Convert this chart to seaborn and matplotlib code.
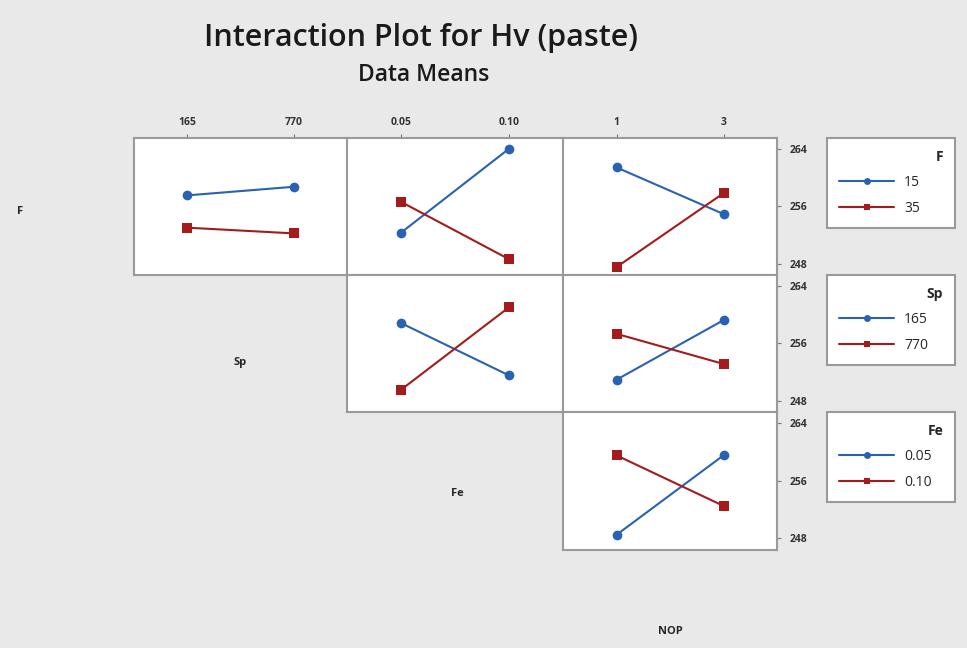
import numpy as np
import pandas as pd
import matplotlib
matplotlib.use('Agg')
import matplotlib.pyplot as plt
from matplotlib.lines import Line2D
import seaborn as sns

# 因子水平
F_levels = ['15', '35']
Sp_levels = ['165', '770']
Fe_levels = ['0.05', '0.10']
NOP_levels = ['1', '3']

# 各面板均值: 每行 = 图例因子的一个水平, 每列 = x轴因子的水平
F_by_Sp = [[257.5, 258.7], [253.0, 252.2]]
F_by_Fe = [[252.3, 264.0], [256.6, 248.6]]
F_by_NOP = [[261.4, 254.9], [247.5, 257.8]]
Sp_by_Fe = [[258.8, 251.5], [249.5, 261.0]]
Sp_by_NOP = [[250.9, 259.2], [257.3, 253.1]]
Fe_by_NOP = [[248.5, 259.5], [259.5, 252.5]]

y_ticks = [248, 256, 264]

blue = '#2a62b2'
red = '#a51b1b'
bg = '#e9e9e9'

sns.set_style('white')
plt.rcParams['font.family'] = ['Open Sans', 'DejaVu Sans']

W, H = 967, 648
fig = plt.figure(figsize=(W / 100, H / 100), dpi=100, facecolor=bg)

col_x = [(134, 347), (347, 563), (563, 777)]
row_y = [(138, 275), (275, 412), (412, 550)]

panels = [
    (0, 0, 'F', F_levels, Sp_levels, F_by_Sp),
    (0, 1, 'F', F_levels, Fe_levels, F_by_Fe),
    (0, 2, 'F', F_levels, NOP_levels, F_by_NOP),
    (1, 1, 'Sp', Sp_levels, Fe_levels, Sp_by_Fe),
    (1, 2, 'Sp', Sp_levels, NOP_levels, Sp_by_NOP),
    (2, 2, 'Fe', Fe_levels, NOP_levels, Fe_by_NOP),
]


def px_axes(x0, x1, y0, y1):
    return fig.add_axes([x0 / W, 1 - y1 / H, (x1 - x0) / W, (y1 - y0) / H])


for r, c, trace, trace_lv, x_lv, means in panels:
    ax = px_axes(col_x[c][0], col_x[c][1], row_y[r][0], row_y[r][1])
    rows = []
    for i, lv in enumerate(trace_lv):
        for j, xv in enumerate(x_lv):
            rows.append({'x': xv, 'level': lv, 'Hv': means[i][j]})
    df = pd.DataFrame(rows)
    sns.lineplot(data=df, x='x', y='Hv', hue='level', style='level',
                 markers=['o', 's'], dashes=False, palette=[blue, red],
                 markersize=7, linewidth=1.5, markeredgewidth=0,
                 sort=False, legend=False, ax=ax)
    ax.set_facecolor('white')
    ax.set_xlim(-0.5, 1.5)
    ax.set_ylim(246.4, 265.5)
    ax.set_xlabel('')
    ax.set_ylabel('')
    for s in ax.spines.values():
        s.set_color('#9a9a9a')
        s.set_linewidth(1.5)
    if r == 0:
        ax.xaxis.tick_top()
        ax.set_xticks([0, 1])
        ax.set_xticklabels(x_lv, fontsize=7.5, fontweight='bold', color='#333333')
        ax.tick_params(axis='x', length=3, color='#777777', pad=4)
    else:
        ax.set_xticks([])
    if c == 2:
        ax.yaxis.tick_right()
        ax.set_yticks(y_ticks)
        ax.set_yticklabels([str(t) for t in y_ticks], fontsize=7.5,
                           fontweight='bold', color='#333333')
        ax.tick_params(axis='y', length=3, color='#777777', pad=6)
    else:
        ax.set_yticks([])

    if c == 2:
        handles = [Line2D([], [], color=blue, marker='o', ms=5, lw=1.5, mew=0),
                   Line2D([], [], color=red, marker='s', ms=5, lw=1.5, mew=0)]
        y_top = row_y[r][0]
        leg = fig.legend(handles, trace_lv, title=trace, loc='upper left',
                         bbox_to_anchor=(827 / W, 1 - y_top / H, 128 / W, 0),
                         mode='expand', borderaxespad=0, alignment='right',
                         fontsize=10, title_fontproperties={'weight': 'bold', 'size': 10},
                         handlelength=4.0, handletextpad=0.7, borderpad=0.85,
                         labelspacing=0.8, fancybox=False, framealpha=1)
        leg.get_frame().set_edgecolor('#9a9a9a')
        leg.get_frame().set_linewidth(1.5)

# 因子名称
fig.text(20 / W, 1 - 212 / H, 'F', fontsize=8, fontweight='bold', ha='center', va='center')
fig.text(240 / W, 1 - 362 / H, 'Sp', fontsize=8, fontweight='bold', ha='center', va='center')
fig.text(457 / W, 1 - 493 / H, 'Fe', fontsize=8, fontweight='bold', ha='center', va='center')
fig.text(670 / W, 1 - 632 / H, 'NOP', fontsize=8, fontweight='bold', ha='center', va='center')

fig.text(421 / W, 1 - 38 / H, 'Interaction Plot for Hv (paste)', fontsize=22,
         fontweight='semibold', ha='center', va='center', color='#1a1a1a')
fig.text(424 / W, 1 - 75 / H, 'Data Means', fontsize=16.5, fontweight='semibold',
         ha='center', va='center', color='#1a1a1a')

fig.savefig('out.png', dpi=100, facecolor=bg)
